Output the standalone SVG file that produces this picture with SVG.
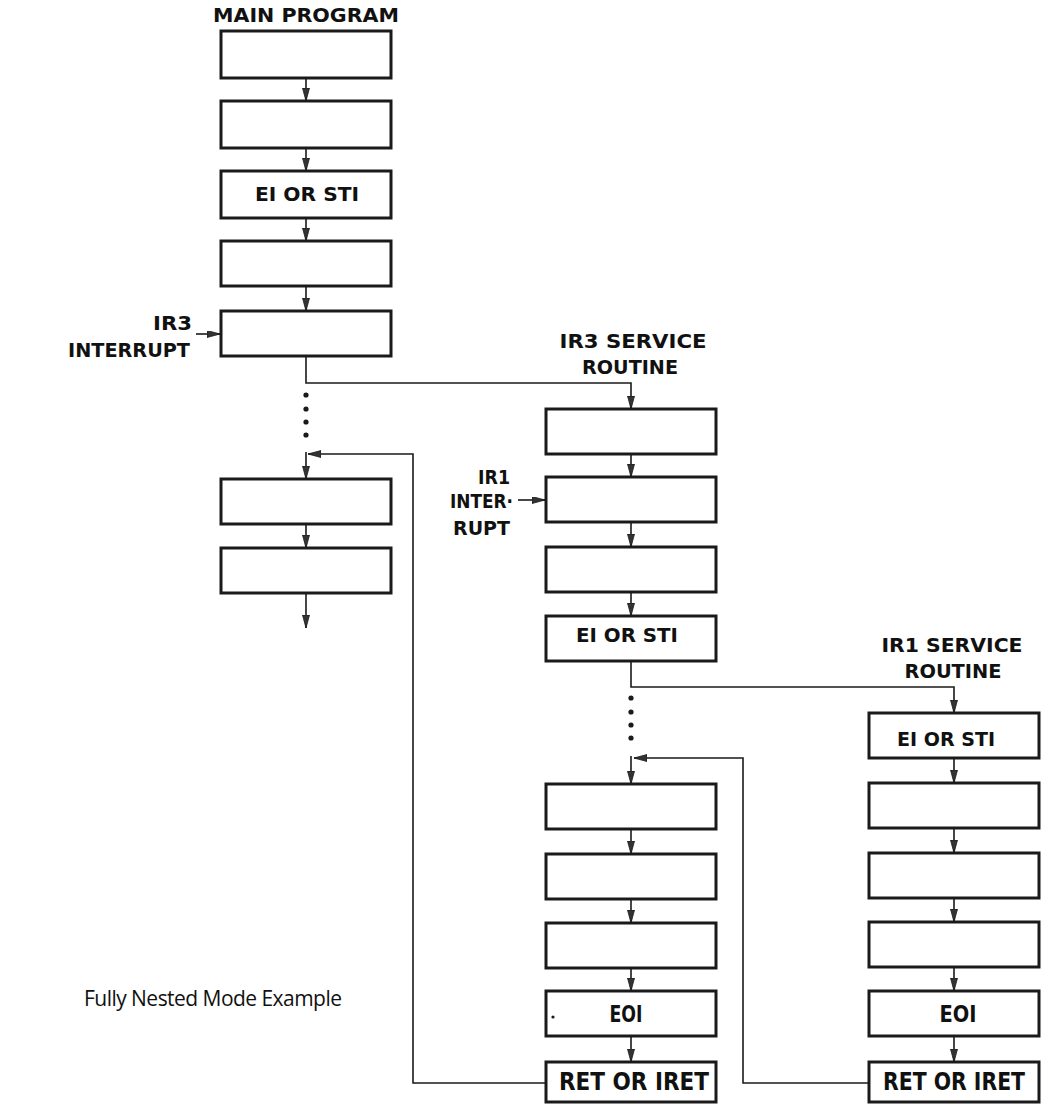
<svg xmlns="http://www.w3.org/2000/svg" width="1049" height="1104" viewBox="0 0 1049 1104">
<style>
.box{fill:#fff;stroke:#1a1a1a;stroke-width:3}
.ln{fill:none;stroke:#1a1a1a;stroke-width:1.6}
.arr{fill:none;stroke:#1a1a1a;stroke-width:1.6;marker-end:url(#ah)}
.t{font-family:"DejaVu Sans","Liberation Sans",Arial,sans-serif;font-weight:bold;fill:#111}
.h{font-size:19px}
.b{font-size:20px;text-anchor:middle}
.c{text-anchor:middle}
.e{text-anchor:end}
.cap{font-family:"Open Sans","Liberation Sans",sans-serif;font-size:21px;fill:#111}
.dot{fill:#1a1a1a}
</style>
<defs>
<marker id="ah" markerUnits="userSpaceOnUse" markerWidth="13" markerHeight="8" refX="13" refY="3.5" orient="auto">
<path d="M0,0 L13,3.5 L0,7 z" fill="#333" stroke="#1a1a1a" stroke-width="0.8"/>
</marker>
</defs>
<rect width="1049" height="1104" fill="#fff"/>

<g id="labels">
<text class="t h c" x="306" y="22" textLength="186" lengthAdjust="spacingAndGlyphs">MAIN PROGRAM</text>
<text class="t h c" x="633" y="348" textLength="147" lengthAdjust="spacingAndGlyphs">IR3 SERVICE</text>
<text class="t h c" x="630" y="374" textLength="96" lengthAdjust="spacingAndGlyphs">ROUTINE</text>
<text class="t h c" x="952" y="652" textLength="141" lengthAdjust="spacingAndGlyphs">IR1 SERVICE</text>
<text class="t h c" x="953" y="678" textLength="97" lengthAdjust="spacingAndGlyphs">ROUTINE</text>
<text class="t h e" x="192" y="330" textLength="39" lengthAdjust="spacingAndGlyphs">IR3</text>
<text class="t h e" x="190" y="357" textLength="122" lengthAdjust="spacingAndGlyphs">INTERRUPT</text>
<text class="t h e" x="510" y="484" textLength="32" lengthAdjust="spacingAndGlyphs">IR1</text>
<text class="t h e" x="513" y="508" textLength="63" lengthAdjust="spacingAndGlyphs">INTER·</text>
<text class="t h e" x="510" y="535" textLength="57" lengthAdjust="spacingAndGlyphs">RUPT</text>
<text class="cap" x="84" y="1006" textLength="258" lengthAdjust="spacing">Fully Nested Mode Example</text>
</g>

<g id="main">
<g id="m1"><rect class="box" x="221" y="31" width="170" height="47"/></g>
<g id="m2"><rect class="box" x="221" y="101" width="170" height="47"/></g>
<g id="m3"><rect class="box" x="221" y="171" width="170" height="47"/><text class="t b" x="307" y="201" textLength="104" lengthAdjust="spacingAndGlyphs">EI OR STI</text></g>
<g id="m4"><rect class="box" x="221" y="241" width="170" height="45"/></g>
<g id="m5"><rect class="box" x="221" y="311" width="170" height="45"/></g>
<g id="m6"><rect class="box" x="221" y="479" width="170" height="45"/></g>
<g id="m7"><rect class="box" x="221" y="548" width="170" height="45"/></g>
</g>

<g id="ir3">
<g id="a1"><rect class="box" x="546" y="409" width="170" height="45"/></g>
<g id="a2"><rect class="box" x="546" y="477" width="170" height="45"/></g>
<g id="a3"><rect class="box" x="546" y="547" width="170" height="45"/></g>
<g id="a4"><rect class="box" x="546" y="616" width="170" height="45"/><text class="t b" x="627" y="642" textLength="102" lengthAdjust="spacingAndGlyphs">EI OR STI</text></g>
<g id="a5"><rect class="box" x="546" y="784" width="170" height="45"/></g>
<g id="a6"><rect class="box" x="546" y="854" width="170" height="45"/></g>
<g id="a7"><rect class="box" x="546" y="923" width="170" height="45"/></g>
<g id="a8"><rect class="box" x="546" y="991" width="170" height="45"/><circle class="dot" cx="553" cy="1017" r="1.6"/><text class="t b" x="626" y="1022" style="font-size:23px" textLength="33" lengthAdjust="spacingAndGlyphs">EOI</text></g>
<g id="a9"><rect class="box" x="546" y="1062" width="170" height="40"/><text class="t b" x="634" y="1090" style="font-size:24px" textLength="150" lengthAdjust="spacingAndGlyphs">RET OR IRET</text></g>
</g>

<g id="ir1">
<g id="b1"><rect class="box" x="869" y="713" width="170" height="45"/><text class="t b" x="946" y="746" textLength="98" lengthAdjust="spacingAndGlyphs">EI OR STI</text></g>
<g id="b2"><rect class="box" x="869" y="783" width="170" height="45"/></g>
<g id="b3"><rect class="box" x="869" y="853" width="170" height="45"/></g>
<g id="b4"><rect class="box" x="869" y="922" width="170" height="45"/></g>
<g id="b5"><rect class="box" x="869" y="991" width="170" height="45"/><text class="t b" x="958" y="1022" style="font-size:23px" textLength="37" lengthAdjust="spacingAndGlyphs">EOI</text></g>
<g id="b6"><rect class="box" x="869" y="1062" width="170" height="40"/><text class="t b" x="954" y="1090" style="font-size:24px" textLength="142" lengthAdjust="spacingAndGlyphs">RET OR IRET</text></g>
</g>

<g id="connectors">
<line class="arr" x1="306" y1="78" x2="306" y2="101"/>
<line class="arr" x1="306" y1="148" x2="306" y2="171"/>
<line class="arr" x1="306" y1="218" x2="306" y2="241"/>
<line class="arr" x1="306" y1="286" x2="306" y2="311"/>
<line class="arr" x1="196" y1="334" x2="220" y2="334"/>
<path class="arr" d="M306,356 V383 H631 V409"/>
<circle class="dot" cx="306" cy="395" r="2.6"/>
<circle class="dot" cx="306" cy="409" r="2.6"/>
<circle class="dot" cx="306" cy="422" r="2.6"/>
<circle class="dot" cx="306" cy="435" r="2.6"/>
<path class="arr" d="M546,1083 H413 V454 H308"/>
<line class="arr" x1="306" y1="452" x2="306" y2="479"/>
<line class="arr" x1="306" y1="524" x2="306" y2="548"/>
<line class="arr" x1="306" y1="593" x2="306" y2="628"/>

<line class="arr" x1="631" y1="454" x2="631" y2="477"/>
<line class="arr" x1="518" y1="500" x2="545" y2="500"/>
<line class="arr" x1="631" y1="522" x2="631" y2="547"/>
<line class="arr" x1="631" y1="592" x2="631" y2="616"/>
<path class="arr" d="M631,661 V687 H954 V713"/>
<circle class="dot" cx="631" cy="698" r="2.6"/>
<circle class="dot" cx="631" cy="712" r="2.6"/>
<circle class="dot" cx="631" cy="725" r="2.6"/>
<circle class="dot" cx="631" cy="738" r="2.6"/>
<path class="arr" d="M869,1083 H743 V758 H634"/>
<line class="arr" x1="631" y1="756" x2="631" y2="784"/>
<line class="arr" x1="631" y1="829" x2="631" y2="854"/>
<line class="arr" x1="631" y1="899" x2="631" y2="923"/>
<line class="arr" x1="631" y1="968" x2="631" y2="991"/>
<line class="arr" x1="631" y1="1036" x2="631" y2="1062"/>

<line class="arr" x1="954" y1="758" x2="954" y2="783"/>
<line class="arr" x1="954" y1="828" x2="954" y2="853"/>
<line class="arr" x1="954" y1="898" x2="954" y2="922"/>
<line class="arr" x1="954" y1="967" x2="954" y2="991"/>
<line class="arr" x1="954" y1="1036" x2="954" y2="1062"/>
</g>
</svg>
